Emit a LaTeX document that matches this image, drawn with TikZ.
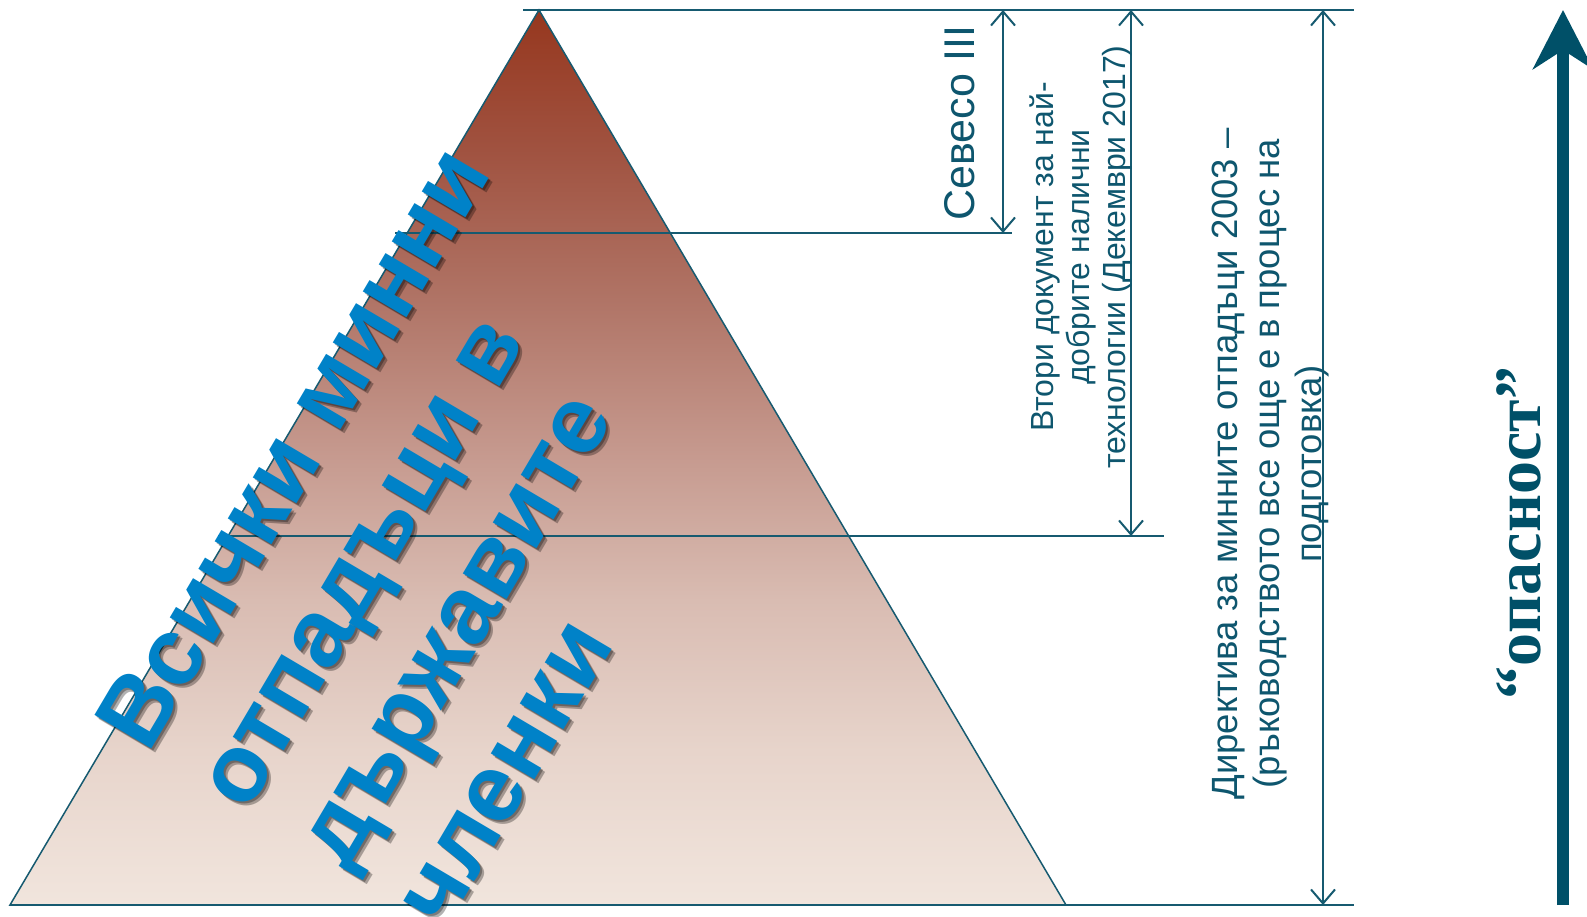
\documentclass[tikz,border=0pt]{standalone}
\usepackage{fontspec}
\setmainfont{Liberation Sans}
\newfontfamily\dangerfont{Liberation Serif}
\usetikzlibrary{arrows.meta}
\definecolor{linecol}{RGB}{22,90,112}
\definecolor{textcol}{RGB}{14,86,110}
\definecolor{arrowcol}{RGB}{0,80,104}
\definecolor{bigblue}{RGB}{0,130,200}
\definecolor{pyr0}{RGB}{241,229,221}
\definecolor{pyr1}{RGB}{231,212,203}
\definecolor{pyr2}{RGB}{217,188,178}
\definecolor{pyr3}{RGB}{197,152,141}
\definecolor{pyr4}{RGB}{176,116,102}
\definecolor{pyr5}{RGB}{160,82,64}
\definecolor{pyr6}{RGB}{150,55,30}
\pgfdeclareverticalshading{pyramid}{100bp}{color(0bp)=(pyr0); color(25bp)=(pyr0); color(33.6bp)=(pyr1); color(42bp)=(pyr2); color(50.5bp)=(pyr3); color(58.8bp)=(pyr4); color(67.2bp)=(pyr5); color(75bp)=(pyr6); color(100bp)=(pyr6)}

\begin{document}
\begin{tikzpicture}[x=1pt,y=-1pt,
  guide/.style={draw=linecol,line width=1.6pt},
  span/.style={draw=linecol,line width=2pt,{Straight Barb[length=14pt,width=24pt]}-{Straight Barb[length=14pt,width=24pt]}},
  lab/.style={text=textcol,rotate=90,align=center,inner sep=0pt},
  big/.style={text=bigblue,font=\fontsize{96}{115}\selectfont\bfseries,rotate=59.4,anchor=base west,inner sep=0pt},
  bigshadow/.style={big,text=black,opacity=0.3}]
\useasboundingbox (0,0) rectangle (1587,917);

\coordinate (apex) at (539,10);
\coordinate (baseL) at (10,905);
\coordinate (baseR) at (1066,905);
\shade[shading=pyramid,draw=linecol,line width=1.5pt] (apex) -- (baseR) -- (baseL) -- cycle;

\coordinate (t0) at (523,10);
\coordinate (t1) at (1354,10);
\coordinate (m0) at (395,233);
\coordinate (m1) at (1012,233);
\coordinate (l0) at (218,536);
\coordinate (l1) at (1164,536);
\coordinate (b1) at (1354,905);
\draw[guide] (t0) -- (t1);
\draw[guide] (m0) -- (m1);
\draw[guide] (l0) -- (l1);
\draw[guide] (baseL) -- (b1);

\node[bigshadow] at (150,757) (w1s) {Всички минни};
\node[bigshadow] at (249,816) (w2s) {отпадъци в};
\node[bigshadow] at (348,874) (w3s) {държавите};
\node[bigshadow] at (447,933) (w4s) {членки};
\node[bigshadow] at (152,759) (w1t) {Всички минни};
\node[bigshadow] at (251,818) (w2t) {отпадъци в};
\node[bigshadow] at (350,876) (w3t) {държавите};
\node[bigshadow] at (449,935) (w4t) {членки};
\node[big] at (148,755) (w1) {Всички минни};
\node[big] at (247,814) (w2) {отпадъци в};
\node[big] at (346,872) (w3) {държавите};
\node[big] at (445,931) (w4) {членки};

\coordinate (sevT) at (1003,10);
\coordinate (sevB) at (1003,233);
\coordinate (brefT) at (1131,10);
\coordinate (brefB) at (1131,536);
\coordinate (dirT) at (1323,10);
\coordinate (dirB) at (1323,905);
\draw[span] (sevT) -- (sevB);
\draw[span] (brefT) -- (brefB);
\draw[span] (dirT) -- (dirB);

\node[lab,font=\fontsize{43}{50}\selectfont] at (960,123) (seveso) {Севесо III};
\node[lab,font=\fontsize{32}{36}\selectfont] at (1081,257) (bref) {Втори документ за най-\\добрите налични\\технологии (Декември 2017)};
\node[lab,font=\fontsize{36.5}{42}\selectfont] at (1271,464) (directive) {Директива за минните отпадъци 2003 –\\(ръководството все още е в процес на\\подготовка)};
\node[text=arrowcol,rotate=90,anchor=base,inner sep=0pt,font=\dangerfont\bfseries\fontsize{66}{70}\selectfont] at (1540,533) (danger) {“опасност”};

\coordinate (upB) at (1563,905);
\coordinate (upT) at (1563,10);
\draw[arrowcol,line width=12pt,-{Stealth[length=59pt,width=60pt,inset=19pt]}] (upB) -- (upT);
\end{tikzpicture}
\end{document}
